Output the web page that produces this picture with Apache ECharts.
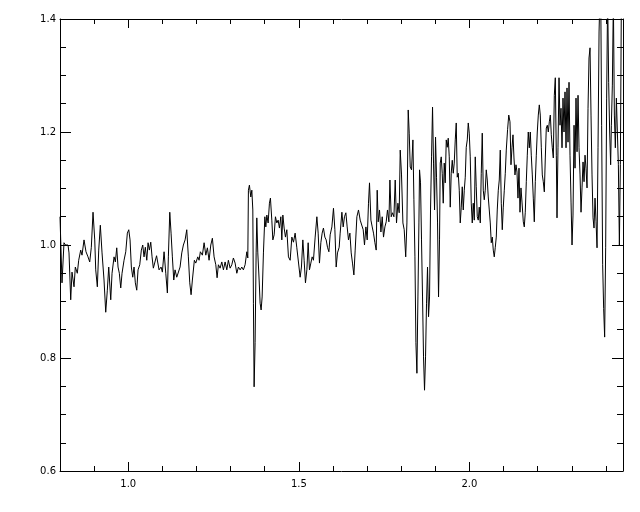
<!DOCTYPE html>
<html><head><meta charset="utf-8">
<script src="https://cdn.jsdelivr.net/npm/echarts@6/dist/echarts.min.js"></script>
<style>html,body{margin:0;padding:0;background:#fff}#c{width:640px;height:512px}</style>
</head><body><div id="c"></div>
<script>
const wavelength = [
0.8000,0.8059,0.8117,0.8161,0.8235,0.8264,0.8314,0.8352,0.8411,0.8449,
0.8507,0.8548,0.8607,0.8645,0.8704,0.8762,0.8821,0.8871,0.8918,0.8968,
0.9018,0.9047,0.9094,0.9135,0.9182,0.9232,0.9290,0.9340,0.9387,0.9428,
0.9487,0.9525,0.9584,0.9622,0.9663,0.9701,0.9739,0.9780,0.9818,0.9877,
0.9927,0.9974,1.0015,1.0053,1.0091,1.0132,1.0170,1.0208,1.0249,1.0287,
1.0337,1.0384,1.0425,1.0463,1.0501,1.0543,1.0581,1.0619,1.0660,1.0698,
1.0736,1.0777,1.0830,
1.0903,1.0962,1.1000,1.1050,1.1100,1.1147,1.1176,1.1217,1.1255,1.1293,
1.1334,1.1372,1.1422,1.1469,1.1519,1.1569,1.1616,1.1666,1.1715,1.1762,
1.1803,1.1842,1.1880,1.1938,1.1979,1.2038,1.2076,1.2114,1.2173,1.2223,
1.2273,1.2320,1.2369,1.2419,1.2466,1.2516,1.2566,1.2604,1.2642,1.2692,
1.2742,1.2789,1.2839,1.2889,1.2935,1.2985,1.3035,1.3082,1.3132,1.3182,
1.3229,1.3279,1.3328,1.3375,1.3425,1.3475,1.3504,1.3522,1.3551,1.3592,
1.3622,1.3651,1.3669,1.3689,1.3718,1.3748,1.3768,1.3797,1.3836,1.3865,
1.3894,1.3924,1.3962,1.4003,1.4032,1.4062,1.4100,1.4138,1.4167,1.4208,
1.4238,1.4276,1.4314,1.4355,1.4393,1.4431,1.4472,1.4501,1.4531,1.4569,
1.4607,1.4648,1.4695,1.4745,1.4795,1.4842,1.4891,1.4941,1.4988,1.5038,
1.5076,1.5117,1.5155,1.5194,1.5235,1.5273,1.5311,1.5352,1.5390,1.5428,
1.5478,1.5528,1.5566,1.5604,1.5645,1.5683,1.5721,1.5762,1.5801,1.5839,
1.5880,1.5918,1.5968,1.6015,1.6056,1.6094,1.6132,1.6182,1.6211,1.6261,
1.6299,1.6337,1.6378,1.6416,1.6455,1.6496,1.6534,1.6572,1.6613,1.6651,
1.6701,1.6748,1.6798,1.6848,1.6886,1.6924,1.6965,1.7003,1.7041,1.7071,
1.7112,1.7150,1.7188,1.7229,1.7267,1.7296,1.7326,1.7364,1.7405,1.7443,
1.7481,1.7522,1.7560,1.7598,1.7639,1.7669,1.7707,1.7745,1.7786,1.7824,
1.7862,1.7903,1.7941,1.7971,1.8009,1.8050,1.8088,1.8132,1.8167,1.8205,
1.8235,1.8264,1.8302,1.8343,1.8372,1.8402,1.8431,1.8460,1.8490,1.8519,
1.8537,1.8566,1.8595,1.8625,1.8654,1.8683,1.8713,1.8742,1.8771,1.8801,
1.8830,1.8859,1.8889,1.8918,1.8947,1.8977,1.9006,1.9035,1.9065,1.9094,
1.9123,1.9144,1.9173,1.9202,1.9232,1.9261,1.9290,1.9320,1.9349,1.9378,
1.9408,1.9437,1.9466,1.9496,1.9525,1.9554,1.9584,1.9613,1.9642,1.9672,
1.9701,1.9730,1.9760,1.9789,1.9818,1.9848,1.9877,1.9906,1.9936,1.9965,
1.9994,2.0023,2.0053,2.0082,2.0111,2.0141,2.0170,2.0199,2.0229,2.0258,
2.0287,2.0317,2.0346,2.0375,2.0405,2.0434,2.0463,2.0493,2.0522,2.0551,
2.0581,2.0610,2.0639,2.0669,2.0698,2.0727,2.0757,2.0786,2.0815,2.0845,
2.0874,2.0903,2.0933,2.0962,2.0991,2.1021,2.1050,2.1079,2.1117,2.1152,
2.1188,2.1217,2.1246,2.1276,2.1305,2.1334,2.1364,2.1393,2.1422,2.1452,
2.1481,2.1510,2.1540,2.1578,2.1607,2.1636,2.1666,2.1695,2.1724,2.1754,
2.1783,2.1812,2.1842,2.1871,2.1900,2.1930,2.1959,2.1988,2.2018,2.2047,
2.2076,2.2106,2.2135,2.2164,2.2194,2.2223,2.2252,2.2282,2.2311,2.2340,
2.2370,2.2399,2.2428,2.2458,2.2487,2.2516,2.2546,2.2566,2.2595,2.2625,
2.2654,2.2683,2.2713,2.2742,2.2771,2.2801,2.2830,2.2859,2.2889,2.2918,
2.2947,2.2977,2.3006,2.3035,2.3065,2.3094,2.3123,2.3153,2.3182,2.3211,
2.3241,2.3270,2.3299,2.3329,2.3358,2.3387,2.3416,2.3446,2.3475,2.3504,
2.3534,2.3563,2.3592,2.3622,2.3651,2.3680,2.3710,2.3739,2.3768,2.3798,
2.3821,2.3850,2.3874,2.3904,2.3933,2.3962,2.3992,2.4021,2.4050,2.4080,
2.4109,2.4138,2.4159,2.4188,2.4218,2.4247,2.4276,2.4306,2.4335,2.4364,
2.4394,2.4423,2.4452
];
const flux = [
1.050,0.933,1.004,1.000,1.000,0.986,0.903,0.952,0.926,0.961,
0.950,0.973,0.991,0.982,1.009,0.988,0.979,0.970,0.996,1.058,
1.009,0.956,0.926,0.991,1.035,0.986,0.938,0.881,0.920,0.961,
0.903,0.950,0.979,0.970,0.995,0.961,0.950,0.924,0.950,0.973,
0.988,1.021,1.027,1.009,0.961,0.943,0.961,0.933,0.920,0.956,
0.965,0.991,1.000,0.979,0.996,0.973,1.004,0.991,1.005,0.979,
0.959,0.956,0.981,
0.956,0.961,0.952,0.988,0.950,0.915,0.979,1.058,1.021,0.979,
0.938,0.956,0.943,0.942,0.961,0.986,1.000,1.009,1.027,0.979,
0.933,0.912,0.938,0.973,0.968,0.979,0.973,0.988,0.982,1.004,
0.982,0.995,0.973,1.000,1.012,0.979,0.965,0.942,0.965,0.959,
0.970,0.956,0.970,0.956,0.973,0.959,0.965,0.977,0.968,0.950,
0.961,0.956,0.961,0.956,0.965,0.988,0.977,1.097,1.106,1.085,
1.097,1.062,0.897,0.749,0.827,0.986,1.048,0.986,0.938,0.897,
0.885,0.908,0.986,1.050,1.032,1.053,1.039,1.074,1.083,1.044,
1.009,1.018,1.050,1.039,1.044,1.030,1.050,1.009,1.053,1.030,
1.014,1.027,0.979,0.973,1.014,1.005,1.021,0.995,0.996,0.943,
0.961,1.009,0.973,0.933,0.956,1.004,0.956,0.968,0.979,0.973,
1.014,1.050,1.021,0.968,1.004,1.021,1.030,1.014,1.009,0.996,
0.988,1.018,1.032,1.065,1.027,0.961,0.986,0.996,1.021,1.058,
1.032,1.050,1.057,1.032,1.009,1.021,0.986,0.968,0.947,0.991,
1.050,1.062,1.044,1.041,1.027,1.000,1.032,1.009,1.074,1.110,
1.044,1.032,1.021,1.004,0.991,1.097,1.041,1.062,1.023,1.050,
1.014,1.032,1.041,1.062,1.041,1.115,1.050,1.057,1.050,1.115,
1.039,1.074,1.057,1.168,1.124,1.039,1.027,0.979,1.039,1.239,
1.198,1.138,1.133,1.186,1.080,0.979,0.827,0.773,0.908,1.039,
1.133,1.110,1.009,0.908,0.802,0.743,0.802,0.897,0.961,0.873,
0.908,1.062,1.156,1.244,1.145,1.062,1.191,1.120,1.039,0.908,
1.009,1.145,1.156,1.127,1.074,1.145,1.110,1.186,1.173,1.189,
1.156,1.067,1.127,1.150,1.127,1.145,1.186,1.216,1.120,1.127,
1.097,1.039,1.067,1.103,1.062,1.097,1.120,1.173,1.186,1.216,
1.198,1.156,1.074,1.039,1.074,1.044,1.156,1.103,1.050,1.044,
1.067,1.039,1.127,1.198,1.097,1.080,1.097,1.133,1.115,1.085,
1.062,1.039,1.004,1.014,0.991,0.979,0.996,1.014,1.062,1.097,
1.115,1.168,1.074,1.027,1.067,1.097,1.127,1.168,1.204,1.230,
1.218,1.142,1.172,1.195,1.154,1.124,1.142,1.129,1.083,1.136,
1.058,1.101,1.076,1.041,1.032,1.058,1.112,1.159,1.200,1.172,
1.200,1.159,1.124,1.083,1.041,1.112,1.159,1.200,1.230,1.248,
1.230,1.172,1.124,1.112,1.094,1.154,1.207,1.212,1.200,1.218,
1.230,1.195,1.172,1.154,1.265,1.296,1.159,1.048,1.172,1.296,
1.212,1.242,1.172,1.260,1.200,1.271,1.172,1.278,1.182,1.288,
1.159,1.076,1.000,1.053,1.212,1.136,1.260,1.165,1.265,1.172,
1.124,1.058,1.101,1.147,1.112,1.159,1.136,1.101,1.242,1.331,
1.349,1.230,1.124,1.048,1.030,1.083,1.041,0.995,1.172,1.377,
1.434,1.425,1.212,0.965,0.888,0.837,0.995,1.260,1.442,1.288,
1.200,1.142,1.212,1.283,1.434,1.230,1.172,1.260,1.200,1.142,
1.000,1.142,1.434
];
const xMajorTicks = [1.0, 1.5, 2.0];
const xMinorTicks = [0.9, 1.1, 1.2, 1.3, 1.4, 1.6, 1.7, 1.8, 1.9, 2.1, 2.2, 2.3, 2.4];
const xRange = [0.8, 2.45];
const yRange = [0.6, 1.4];
const yStep = 0.2;

const points = wavelength.map((w, i) => [w, flux[i]]);
const black = '#000';
const labelFont = { color: black, fontFamily: 'DejaVu Sans', fontSize: 10 };

function xAxisDef(pos, ticks, len, withLine, withLabels) {
  return {
    type: 'value', position: pos, min: xRange[0], max: xRange[1],
    axisLine: { show: withLine, onZero: false, lineStyle: { color: black, width: 1 } },
    axisTick: { show: true, inside: true, length: len, customValues: ticks, lineStyle: { color: black, width: 1 } },
    axisLabel: withLabels ? Object.assign({ show: true, margin: 8, customValues: ticks, formatter: v => v.toFixed(1) }, labelFont) : { show: false },
    splitLine: { show: false }, minorTick: { show: false }
  };
}
function yAxisDef(pos, withLabels) {
  return {
    type: 'value', position: pos, min: yRange[0], max: yRange[1], interval: yStep,
    axisLine: { show: true, onZero: false, lineStyle: { color: black, width: 1 } },
    axisTick: { show: true, inside: true, length: 11, lineStyle: { color: black, width: 1 } },
    minorTick: { show: true, splitNumber: 4, length: 6, lineStyle: { color: black, width: 1 } },
    axisLabel: withLabels ? Object.assign({ show: true, margin: 4, formatter: v => v.toFixed(1), showMinLabel: true, showMaxLabel: true }, labelFont) : { show: false },
    splitLine: { show: false }, minorSplitLine: { show: false }
  };
}

const chart = echarts.init(document.getElementById('c'), null, { renderer: 'canvas' });
chart.setOption({
  animation: false,
  backgroundColor: '#fff',
  grid: { left: 60, top: 19, right: 17, bottom: 41, containLabel: false },
  xAxis: [
    xAxisDef('bottom', xMajorTicks, 9, true, true),
    xAxisDef('bottom', xMinorTicks, 5, false, false),
    xAxisDef('top', xMajorTicks, 9, true, false),
    xAxisDef('top', xMinorTicks, 5, false, false)
  ],
  yAxis: [yAxisDef('left', true), yAxisDef('right', false)],
  series: [{
    type: 'line', xAxisIndex: 0, yAxisIndex: 0, data: points,
    showSymbol: false, symbol: 'none', clip: true, smooth: false,
    lineStyle: { color: black, width: 1 }
  }]
});
</script>
</body></html>
